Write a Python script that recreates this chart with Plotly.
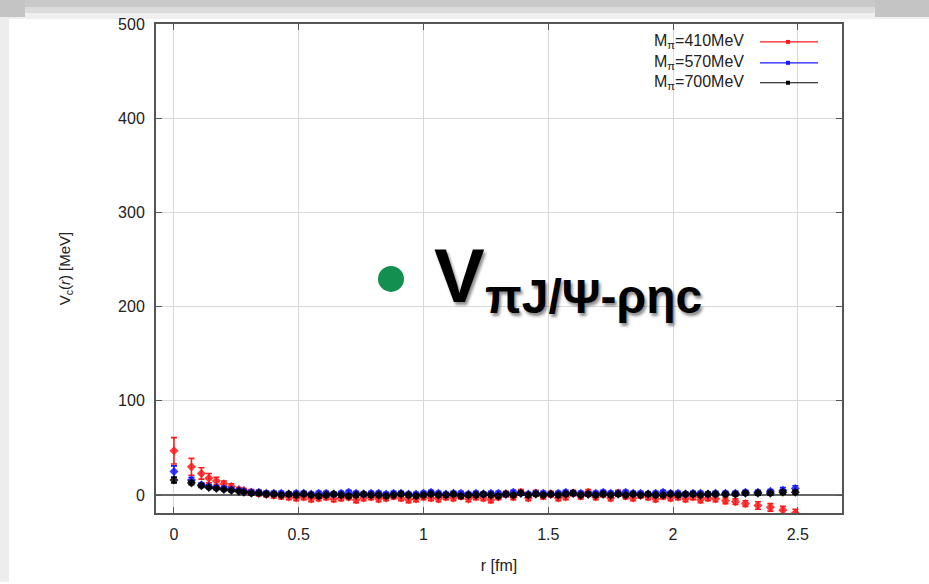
import plotly.graph_objects as go

# ---------------- data ----------------
r_head = [0.0, 0.07, 0.11, 0.14, 0.17, 0.20, 0.23, 0.26, 0.28]
r_mid = [0.31, 0.34, 0.37, 0.40, 0.43, 0.46, 0.49, 0.52, 0.55, 0.58,
         0.61, 0.64, 0.67, 0.70, 0.73, 0.76, 0.79, 0.82, 0.85, 0.88,
         0.91, 0.94, 0.97, 1.00, 1.03, 1.06, 1.09, 1.12, 1.15, 1.18,
         1.21, 1.24, 1.27, 1.30, 1.33, 1.36, 1.39, 1.42, 1.45, 1.48,
         1.51, 1.54, 1.57, 1.60, 1.63, 1.66, 1.69, 1.72, 1.75, 1.78,
         1.81, 1.84, 1.87, 1.90, 1.93, 1.96, 1.99, 2.02, 2.05, 2.08,
         2.11, 2.14, 2.17]
r_tail = [2.21, 2.25, 2.29, 2.34, 2.39, 2.44, 2.49]
r_fm = r_head + r_mid + r_tail

v_410 = [47, 30, 23, 18, 15, 12, 9, 6, 5,
         3, 2, 1, 0, -1, -2, -3, -2, -4, -3,
         -2, -4, -3, -2, -5, -3, -2, -4, -3, -1,
         -3, -5, -4, -2, -3, -4, -2, -3, -1, -4,
         -2, -3, -5, -2, 1, -2, 3, -3, 2, -1,
         1, -3, -2, 2, -1, 3, -2, 1, -3, 2,
         -1, -3, 0, -2, -4, -1, -3, -2, -4, -2,
         -5, -3, -4,
         -6, -7, -9, -11, -13, -16, -19]
e_410 = [14, 9, 6, 5, 4, 3, 3, 2, 2] + [3] * 63 + [3, 3, 3, 4, 4, 4, 4]

v_570 = [25, 16, 11, 9, 8, 7, 6, 5, 4,
         3, 3, 2, 2, 2, 1, 2, 2, 1, 2,
         2, 1, 2, 3, 2, 1, 2, 2, 1, 2,
         2, 1, 1, 2, 3, 2, 1, 2, 2, 1,
         2, 1, 2, 2, 1, 3, 2, 1, 2, 2,
         1, 2, 3, 2, 2, 1, 2, 3, 2, 2,
         3, 2, 2, 1, 2, 3, 2, 2, 1, 2,
         2, 1, 2,
         2, 2, 3, 3, 4, 5, 7]
e_570 = [6, 3, 2, 2, 2, 2, 2, 1, 1] + [2] * 63 + [2, 2, 2, 2, 2, 3, 3]

v_700 = [16, 13, 10, 8, 7, 6, 5, 4, 3,
         2, 2, 1, 1, 0, 1, 0, 1, 0, -1,
         0, 1, 0, -1, 0, 1, 0, 0, -1, 0,
         1, 0, -1, 0, 1, 0, 0, 1, -1, 0,
         0, 1, 0, -1, 1, 0, 2, 0, 1, 0,
         1, 0, 1, 2, 0, 1, 0, 1, 0, 1,
         0, 1, 0, 1, 0, 0, 1, 0, 1, 1,
         0, 1, 1,
         1, 1, 2, 2, 2, 3, 3]
e_700 = [3, 2, 2, 1, 1, 1, 1, 1, 1] + [2] * 63 + [2] * 7

series_names = ["M<sub>π</sub>=410MeV", "M<sub>π</sub>=570MeV", "M<sub>π</sub>=700MeV"]
series_vals = [v_410, v_570, v_700]
series_errs = [e_410, e_570, e_700]
series_colors = ["#ff1a1a", "#1a1aff", "#000000"]

x_ticks = [0, 0.5, 1, 1.5, 2, 2.5]
x_ticktext = ["0", "0.5", "1", "1.5", "2", "2.5"]
y_ticks = [0, 100, 200, 300, 400, 500]

# ---------------- figure ----------------
W, H = 929, 584
L, R, T, B = 156, 87, 24, 69
pw, ph = W - L - R, H - T - B


def px(x):
    return (x - L) / pw


def py(y):
    return (H - B - y) / ph


fig = go.Figure()
for name, vals, errs, col in zip(series_names, series_vals, series_errs, series_colors):
    fig.add_trace(go.Scatter(
        x=r_fm, y=vals, mode="markers", name=name, showlegend=False,
        marker=dict(symbol="diamond", size=7, color=col, opacity=0.85),
        error_y=dict(type="data", array=errs, color=col, thickness=1.6, width=3),
    ))

font_main = "Liberation Sans, Arial, Helvetica, sans-serif"
fig.update_layout(
    width=W, height=H,
    margin=dict(l=L, r=R, t=T, b=B),
    paper_bgcolor="white", plot_bgcolor="white",
    font=dict(family=font_main, size=16, color="#222222"),
    xaxis=dict(
        range=[-0.072, 2.677], tickvals=x_ticks, ticktext=x_ticktext,
        showgrid=True, gridcolor="#d9d9d9", gridwidth=1,
        zeroline=False, showline=True, linecolor="#555555", linewidth=2,
        mirror="ticks", ticks="inside", ticklen=6, tickcolor="#555555",
        ticklabelstandoff=6,
        title=dict(text="r [fm]", font=dict(size=16), standoff=18),
    ),
    yaxis=dict(
        range=[-19, 500], tickvals=y_ticks,
        showgrid=True, gridcolor="#d9d9d9", gridwidth=1,
        zeroline=True, zerolinecolor="#666666", zerolinewidth=1.5,
        showline=True, linecolor="#555555", linewidth=2,
        mirror="ticks", ticks="inside", ticklen=6, tickcolor="#555555",
        ticklabelstandoff=6,
        title=dict(text="V<sub>c</sub>(<i>r</i>) [MeV]", font=dict(size=15), standoff=44),
    ),
)

shapes = []
# slide framing: grey band at top
shapes.append(dict(type="rect", xref="paper", yref="paper", x0=px(0), x1=px(W), y0=py(0), y1=py(7),
                   fillcolor="#c9c9c9", line_width=0, layer="below"))
shapes.append(dict(type="rect", xref="paper", yref="paper", x0=px(0), x1=px(W), y0=py(7), y1=py(13),
                   fillcolor="#dcdcdc", line_width=0, layer="below"))
shapes.append(dict(type="rect", xref="paper", yref="paper", x0=px(0), x1=px(W), y0=py(13), y1=py(19),
                   fillcolor="#efefef", line_width=0, layer="below"))
shapes.append(dict(type="rect", xref="paper", yref="paper", x0=px(0), x1=px(25), y0=py(0), y1=py(17),
                   fillcolor="#c4c4c4", line_width=0, layer="below"))
shapes.append(dict(type="rect", xref="paper", yref="paper", x0=px(875), x1=px(W), y0=py(0), y1=py(17),
                   fillcolor="#c4c4c4", line_width=0, layer="below"))
shapes.append(dict(type="rect", xref="paper", yref="paper", x0=px(0), x1=px(9), y0=py(17), y1=py(H),
                   fillcolor="#ededed", line_width=0, layer="below"))

# legend (gnuplot style: text then sample on the right)
leg_rows = [42, 63, 83]
for name, col, yy in zip(series_names, series_colors, leg_rows):
    fig.add_annotation(x=px(746), y=py(yy), xref="paper", yref="paper", text=name,
                       showarrow=False, xanchor="right", yanchor="middle",
                       font=dict(size=16, color="#222222", family=font_main))
    shapes.append(dict(type="line", xref="paper", yref="paper", x0=px(760), x1=px(818),
                       y0=py(yy), y1=py(yy), line=dict(color=col, width=1.2)))
    shapes.append(dict(type="rect", xref="paper", yref="paper", x0=px(786), x1=px(790),
                       y0=py(yy + 2), y1=py(yy - 2), fillcolor=col, line_width=0))

# green bullet
shapes.append(dict(type="circle", xref="paper", yref="paper", x0=px(378), x1=px(404),
                   y0=py(293), y1=py(267), fillcolor="#13904f", line_width=0))
fig.update_layout(shapes=shapes)

shadow = "2px 3px 3px rgba(0,0,0,0.45)"
fig.add_annotation(x=px(459), y=py(277), xref="paper", yref="paper", text="<b>V</b>",
                   showarrow=False, xanchor="center", yanchor="middle",
                   font=dict(size=76, color="#000000", family="Liberation Sans, Arial, sans-serif", shadow=shadow))
fig.add_annotation(x=px(483), y=py(298), xref="paper", yref="paper", text="<b>πJ/Ψ-ρηc</b>",
                   showarrow=False, xanchor="left", yanchor="middle",
                   font=dict(size=48, color="#000000", family="Liberation Sans, Arial, sans-serif", shadow=shadow))

fig.write_html("out.html")
